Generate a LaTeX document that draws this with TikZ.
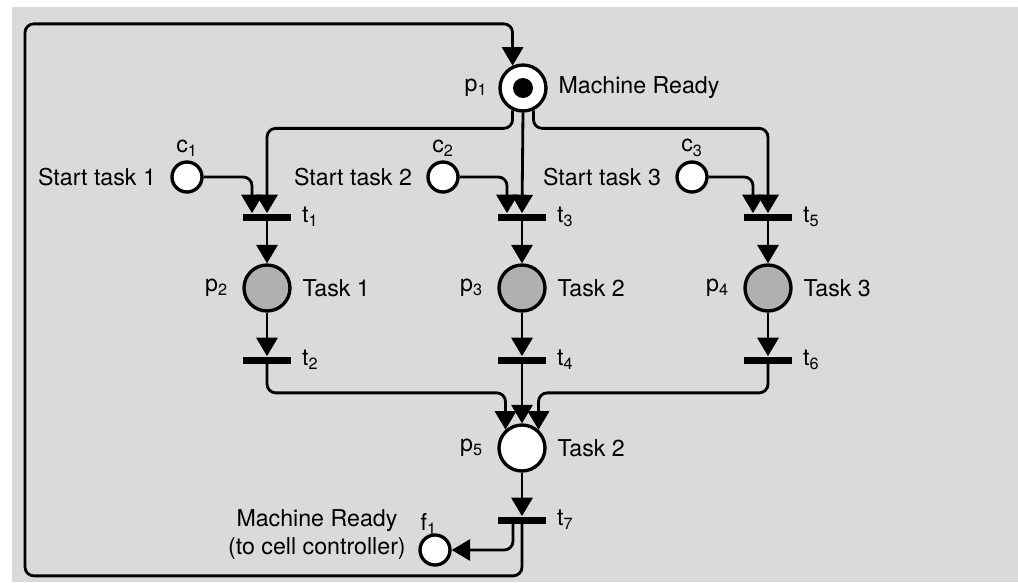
\documentclass[tikz,border=0pt]{standalone}
\usepackage{fontspec}
\setmainfont{TeX Gyre Heros}
\usetikzlibrary{arrows.meta, positioning, calc}
\definecolor{bggray}{RGB}{218,218,218}
\definecolor{taskgray}{RGB}{176,176,176}

\begin{document}
\begin{tikzpicture}[
  x=0.02cm, y=-0.02cm,
  >={Triangle[length=10.5pt, width=12pt]},
  place/.style={circle, draw, line width=1.9pt, fill=white, minimum size=0.92cm, inner sep=0pt},
  cond/.style={place, minimum size=0.6cm},
  busy/.style={place, fill=taskgray},
  trans/.style={rectangle, fill=black, minimum width=0.96cm, minimum height=0.14cm, inner sep=0pt},
  arc/.style={->, line width=1.6pt, rounded corners=5pt},
  lbl/.style={font=\fontsize{13.2}{16}\selectfont, inner sep=1pt, align=center}
]
\useasboundingbox (0,0) rectangle (1018,582);
\fill[bggray] (12,7) rectangle (1018,582);

% places and transitions
\node[place] (p1) at (523,88) {};
\fill (p1.center) circle[radius=0.2cm];
\node[cond] (c1) at (187,177) {};
\node[cond] (c2) at (443,177) {};
\node[cond] (c3) at (692,177) {};
\node[trans] (t1) at (267,217) {};
\node[trans] (t3) at (522,217) {};
\node[trans] (t5) at (768,217) {};
\node[busy] (p2) at (267,288) {};
\node[busy] (p3) at (522,288) {};
\node[busy] (p4) at (768,288) {};
\node[trans] (t2) at (267,360) {};
\node[trans] (t4) at (522,360) {};
\node[trans] (t6) at (768,360) {};
\node[place] (p5) at (522,448) {};
\node[trans] (t7) at (522,520) {};
\node[cond] (f1) at (435,550) {};

% labels
\node[lbl, left=5pt of p1] {p\textsubscript{1}};
\node[lbl, right=5pt of p1] {Machine Ready};
\node[lbl, above=1pt of c1] {c\textsubscript{1}};
\node[lbl, left=7pt of c1] {Start task 1};
\node[lbl, above=1pt of c2] {c\textsubscript{2}};
\node[lbl, left=7pt of c2] {Start task 2};
\node[lbl, above=1pt of c3] {c\textsubscript{3}};
\node[lbl, left=7pt of c3] {Start task 3};
\node[lbl, right=5pt of t1] {t\textsubscript{1}};
\node[lbl, right=5pt of t3] {t\textsubscript{3}};
\node[lbl, right=5pt of t5] {t\textsubscript{5}};
\node[lbl, left=7pt of p2] {p\textsubscript{2}};
\node[lbl, right=5pt of p2] {Task 1};
\node[lbl, left=7pt of p3] {p\textsubscript{3}};
\node[lbl, right=5pt of p3] {Task 2};
\node[lbl, left=7pt of p4] {p\textsubscript{4}};
\node[lbl, right=5pt of p4] {Task 3};
\node[lbl, right=5pt of t2] {t\textsubscript{2}};
\node[lbl, right=5pt of t4] {t\textsubscript{4}};
\node[lbl, right=5pt of t6] {t\textsubscript{6}};
\node[lbl, left=7pt of p5] {p\textsubscript{5}};
\node[lbl, right=5pt of p5] {Task 2};
\node[lbl, right=5pt of t7] {t\textsubscript{7}};
\node[lbl, above left=1pt and -9pt of f1] {f\textsubscript{1}};
\node[lbl, left=6pt of f1, yshift=9pt] {Machine Ready\\(to cell controller)};

% arcs
\draw[arc] (p1.245) -- ++(0,18) -| (t1.north);
\draw[arc] (p1.south) -- (t3.north);
\draw[arc] (p1.295) -- ++(0,18) -| (t5.north);
\draw[arc] (c1.east) -| ($(t1.north)+(-15,0)$);
\draw[arc] (c2.east) -| ($(t3.north)+(-15,0)$);
\draw[arc] (c3.east) -| ($(t5.north)+(-15,0)$);
\draw[arc] (t1.south) -- (p2.north);
\draw[arc] (t3.south) -- (p3.north);
\draw[arc] (t5.south) -- (p4.north);
\draw[arc] (p2.south) -- (t2.north);
\draw[arc] (p3.south) -- (t4.north);
\draw[arc] (p4.south) -- (t6.north);
\draw[arc] (t2.south) -- ++(0,29) -| (p5.132);
\draw[arc] (t4.south) -- (p5.north);
\draw[arc] (t6.south) -- ++(0,29) -| (p5.48);
\draw[arc] (p5.south) -- (t7.north);
\draw[arc] ($(t7.south)+(-9,0)$) |- (f1.east);
\draw[arc] (t7.south) -- ++(0,52) -| ++(-497,-552) -| (p1.115);
\end{tikzpicture}
\end{document}
